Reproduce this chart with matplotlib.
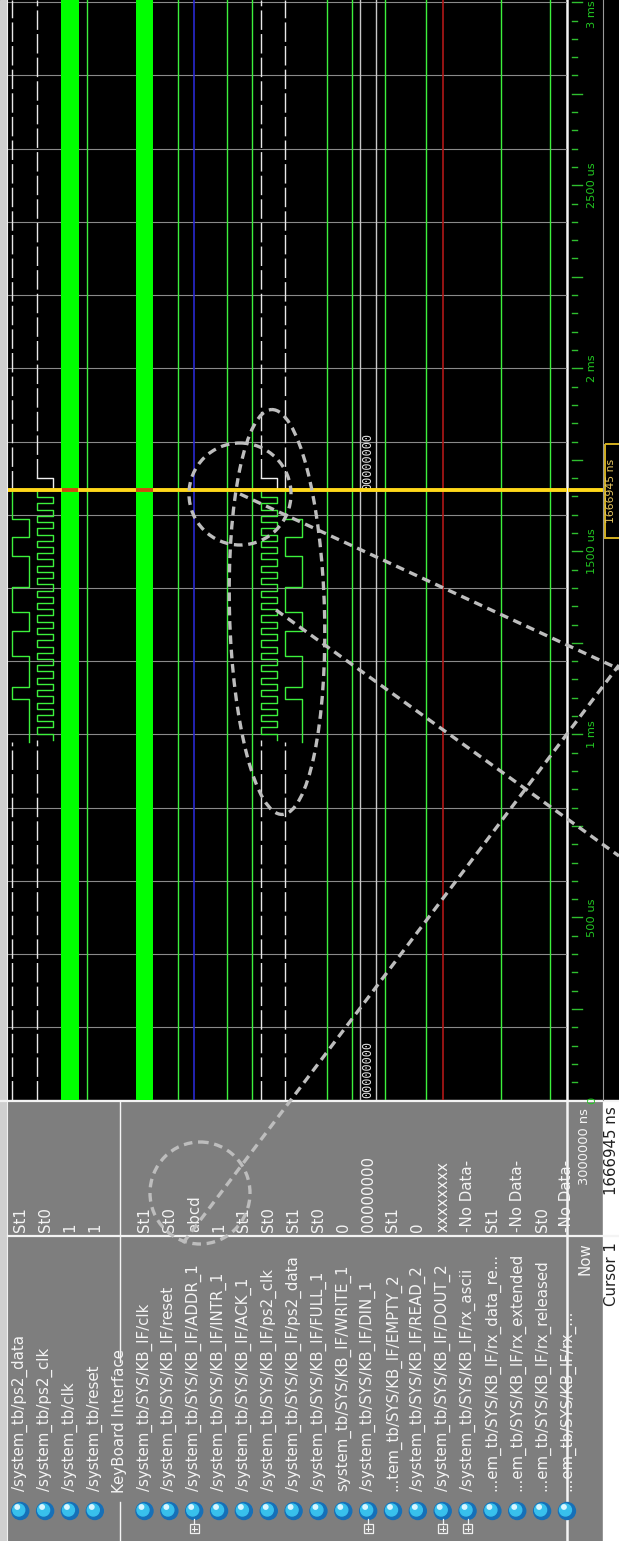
import matplotlib
matplotlib.use("Agg")
import matplotlib.pyplot as plt
from matplotlib.patches import Ellipse, Rectangle, Circle

# ---------------------------------------------------------------- data
signal_names = [
    "/system_tb/ps2_data", "/system_tb/ps2_clk", "/system_tb/clk", "/system_tb/reset",
    "KeyBoard Interface",
    "/system_tb/SYS/KB_IF/clk", "/system_tb/SYS/KB_IF/reset", "/system_tb/SYS/KB_IF/ADDR_1",
    "/system_tb/SYS/KB_IF/INTR_1", "/system_tb/SYS/KB_IF/ACK_1", "/system_tb/SYS/KB_IF/ps2_clk",
    "/system_tb/SYS/KB_IF/ps2_data", "/system_tb/SYS/KB_IF/FULL_1", "system_tb/SYS/KB_IF/WRITE_1",
    "/system_tb/SYS/KB_IF/DIN_1", "...tem_tb/SYS/KB_IF/EMPTY_2", "/system_tb/SYS/KB_IF/READ_2",
    "/system_tb/SYS/KB_IF/DOUT_2", "/system_tb/SYS/KB_IF/rx_ascii", "...em_tb/SYS/KB_IF/rx_data_re...",
    "...em_tb/SYS/KB_IF/rx_extended", "...em_tb/SYS/KB_IF/rx_released", "...em_tb/SYS/KB_IF/rx_..."
]
signal_values = [
    "St1", "St0", "1", "1", "",
    "St1", "St0", "abcd", "1", "St1", "St0", "St1", "St0", "0", "00000000",
    "St1", "0", "xxxxxxxx", "-No Data-", "St1", "-No Data-", "St0", "-No Data-"
]
bus_rows = [7, 14, 17, 18]

# constant single-bit traces: row -> level ("hi", "lo", "mid")
const_rows = {3: "hi", 6: "lo", 8: "lo", 9: "lo", 12: "lo", 13: "lo",
              15: "hi", 16: "lo", 19: "lo", 21: "lo"}
const_colors = {7: "#2a2ad0", 17: "#b01818"}      # Z (blue) and X (red) lanes
clock_rows = [2, 5]

# PS/2 traffic on the testbench lines (times in us, levels 1/0)
ps2_clk_times = [985, 1002, 1019, 1036, 1053, 1070, 1087, 1104, 1121, 1138, 1155,
                 1172, 1189, 1206, 1223, 1240, 1257, 1274, 1291, 1308, 1325, 1342,
                 1359, 1376, 1393, 1410, 1427, 1444, 1461, 1478, 1495, 1512, 1529,
                 1546, 1563, 1580, 1597, 1614, 1631, 1648]
ps2_clk_levels = [0, 1, 0, 1, 0, 1, 0, 1, 0, 1, 0, 1, 0, 1, 0, 1, 0, 1, 0, 1,
                  0, 1, 0, 1, 0, 1, 0, 1, 0, 1, 0, 1, 0, 1, 0, 1, 0, 1, 0, 1]
ps2_data_times = [978, 1096, 1130, 1215, 1283, 1334, 1402, 1487, 1538, 1589]
ps2_data_levels = [0, 1, 0, 1, 0, 1, 0, 1, 0, 1]
ps2_clk_release = 1700
din_label_times = [6, 1668]

cursor_time = 1666.945
now_text = "3000000 ns"
cursor_text = "1666945 ns"
tick_labels = {0: "0", 500: "500 us", 1000: "1 ms", 1500: "1500 us",
               2000: "2 ms", 2500: "2500 us", 3000: "3 ms"}

# ---------------------------------------------------------------- layout
W, H, DPI = 619, 1541, 100
WAVE_L, WAVE_R, WAVE_B = 8, 567, 1100
AXIS_R = 603
PITCH = 24.85
HI0 = 12.0
LO_OFF = 16.5 / PITCH
T0_PX, PX_PER_US = 1100.5, 0.3661
SEP_Y = 1236
PANEL_GRAY = "#7e7e7e"
GREEN = "#3cf03c"
TXT = "#f4f4f4"
NAME_FS = 10.8
plt.rcParams["font.family"] = ["DejaVu Sans"]

fig = plt.figure(figsize=(W / DPI, H / DPI), dpi=DPI)
fig.patch.set_facecolor("black")


def frac_rect(x0, y0, x1, y1):
    return [x0 / W, 1 - y1 / H, (x1 - x0) / W, (y1 - y0) / H]


base = fig.add_axes([0, 0, 1, 1])
base.set_xlim(0, W)
base.set_ylim(H, 0)
base.axis("off")

# frame and panels
base.add_patch(Rectangle((0, 0), W, WAVE_B, color="black"))
base.add_patch(Rectangle((0, WAVE_B), W, H - WAVE_B, color=PANEL_GRAY))
base.add_patch(Rectangle((0, 0), 6, H, color="#cfcfcf"))
base.plot([7, 7], [0, H], color="#f0f0f0", lw=0.8)
base.plot([0, W], [WAVE_B + 1, WAVE_B + 1], color="#f4f4f4", lw=1.6)
base.plot([WAVE_L, W], [SEP_Y, SEP_Y], color="#f4f4f4", lw=1.6)
base.plot([WAVE_R, WAVE_R], [0, H], color="#f4f4f4", lw=1.8)
base.add_patch(Rectangle((AXIS_R, WAVE_B + 2), W - AXIS_R, H - WAVE_B, color="white"))

# ---------------------------------------------------------------- waveforms
tmin = (T0_PX - WAVE_B) / PX_PER_US
tmax = T0_PX / PX_PER_US
wave = fig.add_axes(frac_rect(WAVE_L, 0, WAVE_R, WAVE_B))
wave.set_xlim((WAVE_L - HI0) / PITCH, (WAVE_R - HI0) / PITCH)
wave.set_ylim(tmin, tmax)
wave.set_facecolor("black")
wave.axis("off")
wave.patch.set_visible(True)

for g in range(0, 3200, 200):
    wave.axhline(g, color="#8a8a8a", lw=0.8, zorder=1)


def lane(row, level):
    return row + {"hi": 0.0, "lo": LO_OFF, "mid": LO_OFF / 2}[level]


def trace(row, times, levels, t_end, **kw):
    xs, ys = [], []
    for i, (t, lv) in enumerate(zip(times, levels)):
        t_next = times[i + 1] if i + 1 < len(times) else t_end
        x = row + (0.0 if lv else LO_OFF)
        xs += [x, x]
        ys += [t, t_next]
    wave.plot(xs, ys, **kw)


for r in clock_rows:
    wave.fill_betweenx([tmin, tmax], r - 0.03, r + LO_OFF + 0.03, color="#00ff00", lw=0, zorder=3)
for r, lv in const_rows.items():
    wave.plot([lane(r, lv)] * 2, [tmin, tmax], color=GREEN, lw=1.0, zorder=3)
for r, c in const_colors.items():
    wave.plot([lane(r, "mid")] * 2, [tmin, tmax], color=c, lw=1.2, zorder=3)

# DIN bus
for off in (0.0, LO_OFF):
    wave.plot([14 + off] * 2, [tmin, tmax], color="#c8c8c8", lw=1.0, zorder=3)
for t in din_label_times:
    wave.text(14 + LO_OFF / 2, t, "00000000", rotation=90, ha="center", va="bottom",
              color="#e0e0e0", fontsize=8.6, family="DejaVu Sans Mono", zorder=4)

# PS/2 lines, testbench and keyboard interface copies
idle = dict(color="#e8e8e8", lw=1.0, ls=(0, (14, 3)), zorder=3)
for clk_row, dat_row in ((1, 0), (10, 11)):
    wave.plot([clk_row] * 2, [tmin, ps2_clk_times[0]], **idle)
    wave.plot([dat_row] * 2, [tmin, ps2_data_times[0]], **idle)
    trace(clk_row, ps2_clk_times, ps2_clk_levels, cursor_time, color=GREEN, lw=1.0, zorder=3)
    trace(dat_row, ps2_data_times, ps2_data_levels, cursor_time, color=GREEN, lw=1.0, zorder=3)
    # after the cursor: clock held low until release, then idle
    trace(clk_row, [cursor_time, ps2_clk_release], [0, 1], ps2_clk_release, color="#f0f0f0", lw=1.0, zorder=3)
    wave.plot([clk_row] * 2, [ps2_clk_release, tmax], **idle)
    wave.plot([dat_row] * 2, [cursor_time, tmax], **idle)

# cursor
wave.axhline(cursor_time, color="#ffd81a", lw=2.8, zorder=6)
for r in clock_rows:
    wave.plot([r, r + LO_OFF], [cursor_time] * 2, color="#c84a10", lw=2.8, zorder=7,
              solid_capstyle="butt")

# ---------------------------------------------------------------- time axis
tax = fig.add_axes(frac_rect(WAVE_R + 1, 0, AXIS_R, WAVE_B))
tax.set_xlim(0, AXIS_R - WAVE_R - 1)
tax.set_ylim(tmin, tmax)
tax.set_facecolor("black")
tax.axis("off")
tax.patch.set_visible(True)
for t in range(0, 3050, 50):
    length = 10 if t % 250 == 0 else 5
    tax.plot([4, 4 + length], [t, t], color="#2fbf2f", lw=1.0)
for t, s in tick_labels.items():
    va = "top" if t == 3000 else "center"
    ty = tmax - 1 if t == 3000 else t
    tax.text(24, ty, s, rotation=90, ha="center", va=va, color="#22c822", fontsize=8.2)
tax.axhline(cursor_time, xmax=1.0, color="#ffd81a", lw=2.8)
base.plot([AXIS_R, AXIS_R], [0, WAVE_B], color="#9a9a9a", lw=0.8)

# cursor label box
box_y0 = T0_PX - (cursor_time + 125) * PX_PER_US
box_y1 = T0_PX - (cursor_time - 130) * PX_PER_US
base.add_patch(Rectangle((AXIS_R + 1.5, box_y0), 30, box_y1 - box_y0, fill=False,
                         ec="#d4b020", lw=1.4))
base.text(AXIS_R + 8.5, (box_y0 + box_y1) / 2, cursor_text, rotation=90, ha="center",
          va="center", color="#e8c860", fontsize=7.8)

# ---------------------------------------------------------------- names / values panel
clip_box = Rectangle((0, WAVE_B), WAVE_R, H - WAVE_B, transform=base.transData)
for k, (name, val) in enumerate(zip(signal_names, signal_values)):
    cx = HI0 + PITCH * k + 8.25
    if k == 4:
        base.text(cx, 1493, name, rotation=90, ha="center", va="bottom",
                  color=TXT, fontsize=NAME_FS)
        base.plot([cx, cx], [WAVE_B + 2, 1362], color="#f4f4f4", lw=1.0)
        base.plot([cx, cx], [1502, H], color="#f4f4f4", lw=1.0)
        continue
    t1 = base.text(cx, 1491, name, rotation=90, ha="center", va="bottom",
                   color=TXT, fontsize=NAME_FS)
    t2 = base.text(cx, 1232, val, rotation=90, ha="center", va="bottom",
                   color=TXT, fontsize=NAME_FS)
    for t in (t1, t2):
        t.set_clip_path(clip_box)
    ball = Circle((cx, 1511), 8.5, color="#1670b8", zorder=3)
    ball.set_clip_path(clip_box)
    base.add_patch(ball)
    hl = Circle((cx - 1.5, 1510), 6.0, color="#38c0ec", zorder=4)
    hl.set_clip_path(clip_box)
    base.add_patch(hl)
    sp = Circle((cx - 3, 1507), 2.2, color="#d8f6ff", zorder=5)
    sp.set_clip_path(clip_box)
    base.add_patch(sp)
    if k in bus_rows:
        base.plot([cx, cx], [1519, 1524], color="#f0f0f0", lw=0.9, zorder=4)
        base.add_patch(Rectangle((cx - 4.5, 1524), 9, 9, fill=False, ec="#f0f0f0", lw=0.9, zorder=4))
        base.plot([cx - 2.5, cx + 2.5], [1528.5, 1528.5], color="#f0f0f0", lw=0.8, zorder=4)
        base.plot([cx, cx], [1526, 1531], color="#f0f0f0", lw=0.8, zorder=4)

base.text(585, 1108, now_text, rotation=90, ha="center", va="top", color=TXT, fontsize=9.4)
base.text(585, 1242, "Now", rotation=90, ha="center", va="top", color=TXT, fontsize=NAME_FS)
base.text(612, 1106, cursor_text, rotation=90, ha="center", va="top", color="#202020", fontsize=NAME_FS)
base.text(612, 1242, "Cursor 1", rotation=90, ha="center", va="top", color="#202020", fontsize=NAME_FS)

# ---------------------------------------------------------------- callout overlay
over = fig.add_axes([0, 0, 1, 1])
over.set_xlim(0, W)
over.set_ylim(H, 0)
over.axis("off")
over.patch.set_visible(False)
dash = dict(ls=(0, (2.6, 1.7)), lw=2.4, color="#bdbdbd")
ellipses = [((277, 612), 95, 405, -1.5), ((240, 494), 102, 102, 0), ((200, 1193), 100, 102, 0)]
for (cx, cy), w, h, ang in ellipses:
    over.add_patch(Ellipse((cx, cy), w, h, angle=ang, fill=False, ec=dash["color"],
                           lw=dash["lw"], ls=dash["ls"]))
callout_lines = [((240, 494), (619, 669)), ((276, 610), (619, 856)), ((183, 1243), (619, 665))]
for (x0, y0), (x1, y1) in callout_lines:
    over.plot([x0, x1], [y0, y1], **dash)

fig.savefig("out.png", dpi=DPI, facecolor=fig.get_facecolor())
